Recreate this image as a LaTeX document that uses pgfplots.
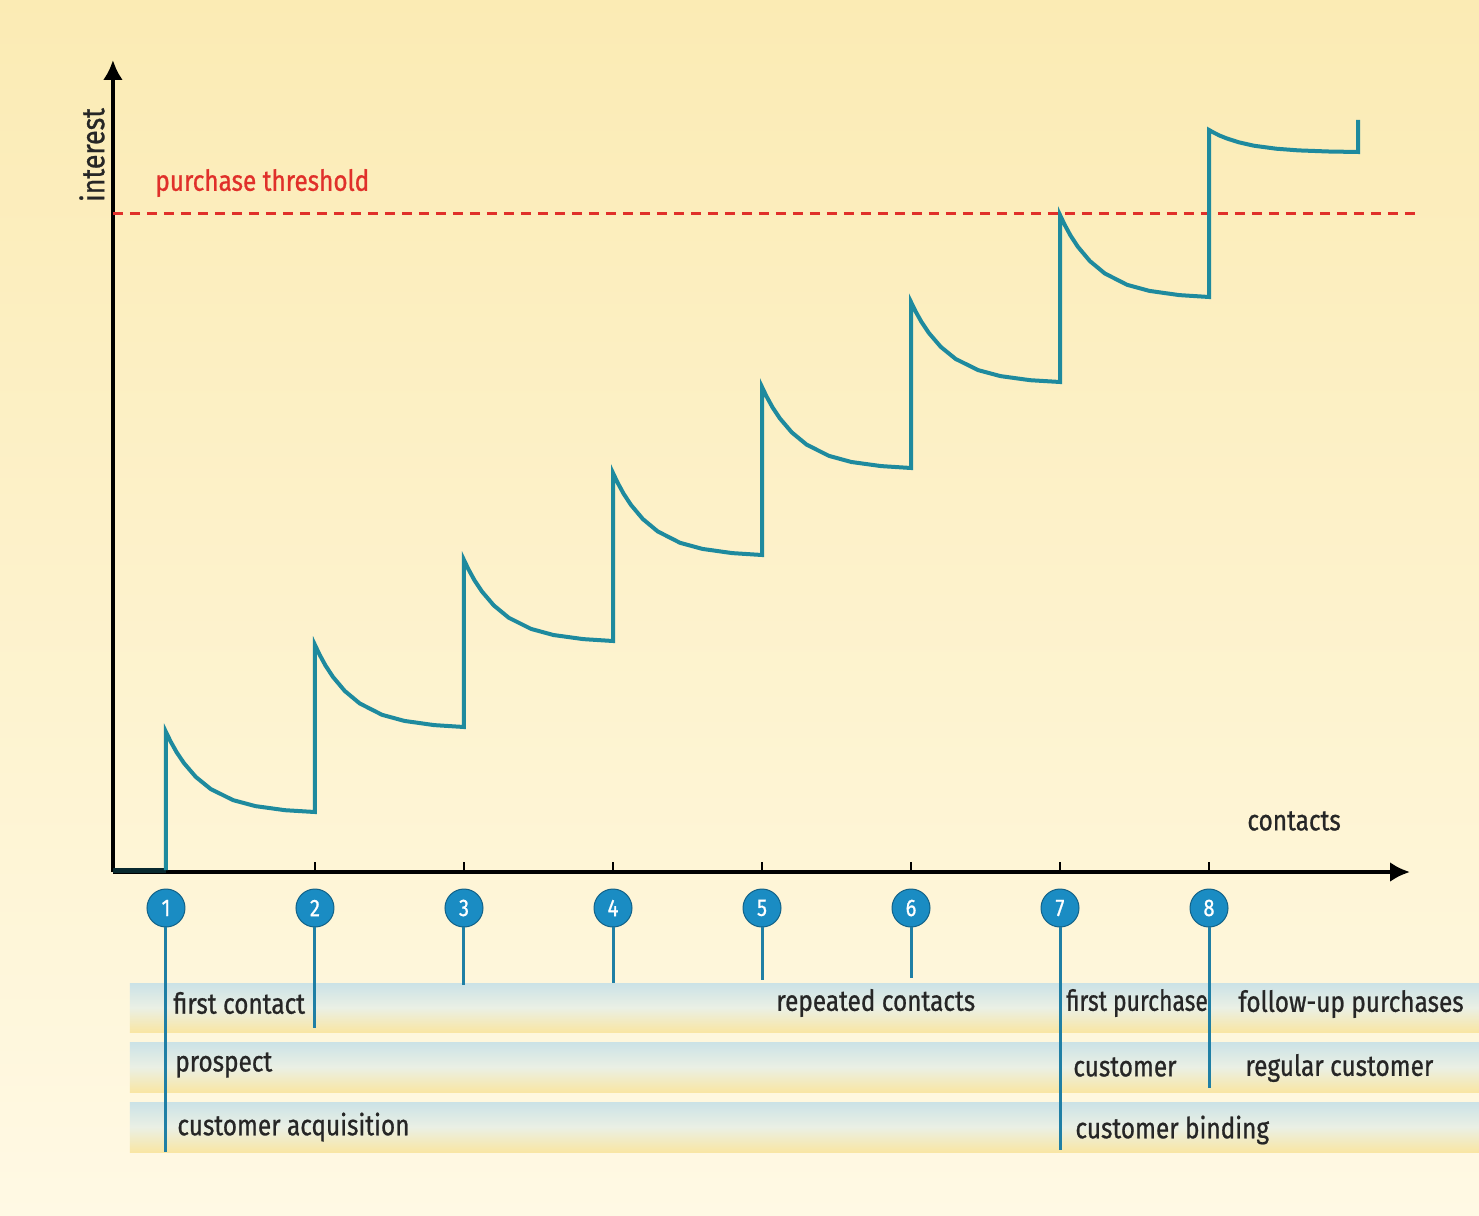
\documentclass[border=0pt]{standalone}
\usepackage{pgfplots}
\pgfplotsset{compat=1.18}
\usetikzlibrary{arrows.meta}
\usepackage{fontspec}
\setmainfont{Fira Sans}[FakeStretch=0.84, FakeBold=0.8]
\definecolor{bgtop}{HTML}{FBEBB4}
\definecolor{bgbot}{HTML}{FFF9E4}
\definecolor{curve}{HTML}{1E8A9E}
\definecolor{cblue}{HTML}{1A8CC3}
\definecolor{vline}{HTML}{1F7FA5}
\definecolor{thr}{HTML}{E0302A}
\definecolor{bandblue}{HTML}{CBE2E6}
\definecolor{bandyel}{HTML}{F9E6A4}
\definecolor{txt}{HTML}{262626}
\begin{document}
\begin{tikzpicture}
\begin{axis}[
  set layers,
  x=74.5pt, y=0.5pt,
  xmin=0.644, xmax=9.349, ymin=0, ymax=812,
  axis lines=left,
  axis line style={line width=2pt, -{Latex[length=10pt,width=10pt]}},
  xtick={1,2,3,4,5,6,7,8},
  xticklabels={1,2,3,4,5,6,7,8},
  ytick=\empty,
  tick align=inside,
  major tick length=5pt,
  tick style={line width=1pt, black},
  xticklabel style={circle, fill=cblue, draw=cblue!70!black, line width=0.5pt,
    text=white, minimum size=19pt,
    inner sep=0pt, font=\fontsize{12}{12}\selectfont,
    anchor=center, yshift=-18pt},
  clip=false,
  font=\fontsize{14.5}{16}\selectfont,
]
\begin{pgfonlayer}{axis background}
  \shade[top color=bgtop, bottom color=bgbot] (axis cs:-0.114,872) rectangle (axis cs:9.812,-343);
  \shade[top color=bandblue, bottom color=bandyel, middle color=bgbot!60!bandblue] (axis cs:0.758,-111) rectangle (axis cs:9.812,-160);
  \shade[top color=bandblue, bottom color=bandyel, middle color=bgbot!60!bandblue] (axis cs:0.758,-170) rectangle (axis cs:9.812,-220);
  \shade[top color=bandblue, bottom color=bandyel, middle color=bgbot!60!bandblue] (axis cs:0.758,-230) rectangle (axis cs:9.812,-280);
\end{pgfonlayer}

% purchase threshold
\addplot[thr, line width=1.5pt, dash pattern=on 5pt off 3.5pt] coordinates {(0.644,658) (9.383,658)};

% interest curve
\addplot[black!70!curve, line width=2.5pt] coordinates {(0.644,2) (1,2)};
\addplot[curve, line width=2pt, line join=miter] coordinates {
(1,2)
(1,140) (1.03,130.8) (1.07,120.1) (1.12,109.0) (1.2,95.1) (1.3,83.0) (1.45,71.9) (1.6,65.9) (1.8,61.8) (2,60)
(2,227) (2.03,217.6) (2.07,206.6) (2.12,195.2) (2.2,181.0) (2.3,168.6) (2.45,157.2) (2.6,151.1) (2.8,146.9) (3,145)
(3,312) (3.03,302.7) (3.07,291.8) (3.12,280.6) (3.2,266.6) (3.3,254.3) (3.45,243.1) (3.6,237.0) (3.8,232.9) (4,231)
(4,399) (4.03,389.6) (4.07,378.6) (4.12,367.2) (4.2,353.0) (4.3,340.6) (4.45,329.2) (4.6,323.1) (4.8,318.9) (5,317)
(5,485) (5.03,475.7) (5.07,464.8) (5.12,453.6) (5.2,439.6) (5.3,427.3) (5.45,416.1) (5.6,410.0) (5.8,405.9) (6,404)
(6,570) (6.03,560.8) (6.07,550.1) (6.12,539.0) (6.2,525.1) (6.3,513.0) (6.45,501.9) (6.6,495.9) (6.8,491.8) (7,490)
(7,657) (7.03,647.6) (7.07,636.6) (7.12,625.2) (7.2,611.0) (7.3,598.6) (7.45,587.2) (7.6,581.1) (7.8,576.9) (8,575)
(8,742) (8.03,739.5) (8.07,736.5) (8.12,733.5) (8.2,729.7) (8.3,726.3) (8.45,723.3) (8.6,721.6) (8.8,720.5) (9,720)
(9,752)
};

% lines below the contact markers
\draw[vline, line width=1.5pt] (axis cs:1,-55) -- (axis cs:1,-280);
\draw[vline, line width=1.5pt] (axis cs:2,-55) -- (axis cs:2,-156);
\draw[vline, line width=1.5pt] (axis cs:3,-55) -- (axis cs:3,-113);
\draw[vline, line width=1.5pt] (axis cs:4,-55) -- (axis cs:4,-111);
\draw[vline, line width=1.5pt] (axis cs:5,-55) -- (axis cs:5,-108);
\draw[vline, line width=1.5pt] (axis cs:6,-55) -- (axis cs:6,-106);
\draw[vline, line width=1.5pt] (axis cs:7,-55) -- (axis cs:7,-278);
\draw[vline, line width=1.5pt] (axis cs:8,-55) -- (axis cs:8,-216);

% labels
\begin{scope}[every node/.style={text=txt, inner sep=0pt, anchor=west}]
\node[rotate=90, anchor=center, font=\fontsize{16}{18}\selectfont] at (axis cs:0.503,717) {interest};
\node[text=thr] at (axis cs:0.926,689) {purchase threshold};
\node at (axis cs:8.255,51) {contacts};
\node at (axis cs:1.047,-131) {first contact};
\node at (axis cs:5.094,-131) {repeated contacts};
\node[xscale=0.94] at (axis cs:7.040,-131) {first purchase};
\node at (axis cs:8.195,-132) {follow-up purchases};
\node at (axis cs:1.060,-193) {prospect};
\node at (axis cs:7.087,-195) {customer};
\node at (axis cs:8.242,-196) {regular customer};
\node at (axis cs:1.074,-255) {customer acquisition};
\node at (axis cs:7.101,-258) {customer binding};
\end{scope}
\end{axis}
\end{tikzpicture}
\end{document}
